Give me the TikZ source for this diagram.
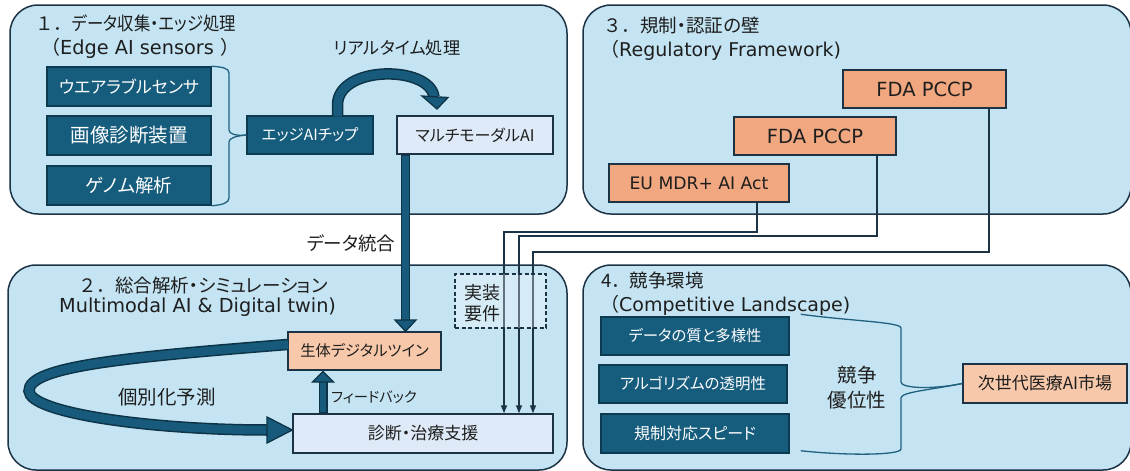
\documentclass[tikz,border=0pt]{standalone}
\usepackage{fontspec}
\usepackage{graphicx}
\setmainfont{Noto Sans CJK JP}[RawFeature=+palt]
\newfontfamily\jp{Noto Sans CJK JP}[RawFeature=+palt]
\newfontfamily\jpf{Noto Sans CJK JP}
\newfontfamily\lat{DejaVu Sans}
\usetikzlibrary{arrows.meta}
\definecolor{panel}{HTML}{C4E4F3}
\definecolor{pborder}{HTML}{1C3346}
\definecolor{darkbox}{HTML}{165C7D}
\definecolor{darkedge}{HTML}{0E3A50}
\definecolor{lightbox}{HTML}{DEEAF7}
\definecolor{salmonL}{HTML}{F8C8AA}
\definecolor{salmon}{HTML}{F1A880}
\definecolor{arrowfill}{HTML}{175A7B}
\definecolor{arrowedge}{HTML}{0D3446}
\definecolor{bracketc}{HTML}{21607F}
\definecolor{txt}{HTML}{1E1E1E}
\newcommand{\fs}[1]{\fontsize{#1}{#1}\selectfont}
\tikzset{
  panelbox/.style={fill=panel,draw=pborder,line width=1.5pt,rounded corners=28pt},
  dbox/.style={draw=darkedge,fill=darkbox,line width=1.5pt,text=white,inner sep=0pt},
  lbox/.style={draw=pborder,fill=lightbox,line width=1.5pt,text=txt,inner sep=0pt},
  sbox/.style={draw=pborder,fill=salmonL,line width=1.5pt,text=txt,inner sep=0pt},
  obox/.style={draw=pborder,fill=salmon,line width=1.5pt,text=txt,inner sep=0pt},
  ttl/.style={anchor=west,text=txt,inner sep=0pt},
  lbl/.style={text=txt,inner sep=0pt},
  thinarrow/.style={draw=pborder,line width=1.4pt,-{Triangle[width=6pt,length=8pt]}},
  bandout/.style={draw=arrowedge,line width=11.5pt},
  bandin/.style={draw=arrowfill,line width=8.5pt},
  headst/.style={fill=arrowfill,draw=arrowedge,line width=1.3pt,line join=miter},
  brk/.style={draw=bracketc,line width=1.3pt},
}
\begin{document}
\begin{tikzpicture}[x=1pt,y=-1pt]
\useasboundingbox (0,0) rectangle (1130,471);
\begin{scope}
\clip (0,0) rectangle (1130,471);
% panels
\draw[panelbox] (10,5) rectangle (567,214);
\draw[panelbox] (583,5) rectangle (1131,214);
\draw[panelbox] (8,265) rectangle (567,470);
\draw[panelbox] (583,265) rectangle (1131,470);
\end{scope}

% titles
\node[ttl] (t1a) at (35,23) {{\jpf\fs{18.5}１．}\scalebox{0.885}[1]{\jp\fs{18.5}データ収集・エッジ処理}};
\node[ttl] (t1b) at (41,48) {{\jpf\fs{19}（}{\lat\fs{19.3}Edge AI sensors }{\jpf\fs{19}）}};
\node[ttl] (t2a) at (78,285) {{\jpf\fs{18.5}２．}{\jp\fs{18.5}総合解析・シミュレーション}};
\node[ttl,font=\lat\fs{19.3}] (t2b) at (59,307) {Multimodal AI \& Digital twin)};
\node[ttl] (t3a) at (603,25) {{\jpf\fs{18.5}３．}{\jp\fs{18.5}規制・認証の壁}};
\node[ttl] (t3b) at (600,50) {{\jpf\fs{19}（}{\lat\fs{19}Regulatory Framework)}};
\node[ttl] (t4a) at (601,280) {{\jpf\fs{18.5}4．}{\jp\fs{18.5}競争環境}};
\node[ttl] (t4b) at (600,305) {{\jpf\fs{19}（}{\lat\fs{19}Competitive Landscape)}};

% regulation boxes and thin connectors
\node[obox,minimum width=163pt,minimum height=38pt,font=\lat\fs{19.5}] (fda1) at (924.5,89) {FDA PCCP};
\node[obox,minimum width=162pt,minimum height=38pt,font=\lat\fs{19.5}] (fda2) at (815,136) {FDA PCCP};
\node[obox,minimum width=180pt,minimum height=38pt,font=\lat\fs{17.2}] (eu) at (699,183) {EU MDR+ AI Act};
\node[lbox,minimum width=260pt,minimum height=39pt,font=\jp\fs{17}] (diag) at (423,433.5) {診断・治療支援};
\coordinate (k1) at (504,232);
\coordinate (k2) at (519,236);
\coordinate (k3) at (533,252);
\draw[thinarrow] ([xshift=58pt]eu.south) |- (k1) -- (k1 |- diag.north);
\draw[thinarrow] ([xshift=62pt]fda2.south) |- (k2) -- (k2 |- diag.north);
\draw[thinarrow] ([xshift=64.5pt]fda1.south) |- (k3) -- (k3 |- diag.north);

% dashed requirement box
\node[draw=pborder,dashed,dash pattern=on 4pt off 2.5pt,line width=1.3pt,fill=white,fill opacity=0.3,text opacity=1,minimum width=91pt,minimum height=54pt,inner sep=0pt] (req) at (500.5,301) {};
\node[lbl,font=\jp\fontsize{18}{20.5}\selectfont,align=left,anchor=west] (reqt) at (464,303) {実装\\要件};

% panel 1 boxes
\node[dbox,minimum width=164pt,minimum height=39pt,font=\jp\fs{17}] (wear) at (129,86.5) {ウエアラブルセンサ};
\node[dbox,minimum width=164pt,minimum height=39pt,font=\jp\fs{19.5}] (img) at (129,135.5) {画像診断装置};
\node[dbox,minimum width=164pt,minimum height=39pt,font=\jp\fs{18.5}] (gen) at (129,185.5) {ゲノム解析};
\node[dbox,minimum width=126pt,minimum height=38pt,font=\jp\fs{15.5}] (chip) at (310,135) {エッジAIチップ};
\node[lbox,minimum width=156pt,minimum height=38pt,font=\jp\fs{16}] (multi) at (475,135) {マルチモーダルAI};

% bracket 1
\draw[brk] (wear.north east) .. controls (222,67) and (229,68) .. (229,73) -- (229,130) .. controls (229,134) and (236,136) .. (chip.west);
\draw[brk] (chip.west) .. controls (236,136) and (229,138) .. (229,142) -- (229,198) .. controls (229,203) and (222,205) .. (gen.south east);

% realtime curved arrow
\node[lbl,font=\jp\fs{17.2}] (rt) at (397,48) {リアルタイム処理};
\coordinate (rtend) at (434,97);
\draw[bandout] ([xshift=27.5pt]chip.north) -- (337.5,105) .. controls (337.5,65) and (430,65) .. (rtend);
\draw[bandin] ([xshift=27.5pt,yshift=-1pt]chip.north) -- (337.5,105) .. controls (337.5,65) and (430,65) .. (rtend);
\draw[headst] (422,96) -- (448,97.5) -- (437,109) -- cycle;

% panel 2 boxes
\node[sbox,minimum width=153pt,minimum height=38pt,font=\jp\fs{15.3}] (twin) at (364.5,351) {生体デジタルツイン};

% integration arrow
\node[lbl,font=\jp\fs{18.5}] (integ) at (351,243) {データ統合};
\draw[draw=arrowedge,line width=9.5pt] ([xshift=-69.5pt]multi.south) -- (405.5,321);
\draw[draw=arrowfill,line width=7pt] ([xshift=-69.5pt,yshift=-1pt]multi.south) -- (405.5,321);
\draw[headst] (395,320) -- (416,320) -- (twin.north -| 405.5,0) -- cycle;

% feedback arrow
\node[lbl,font=\jp\fs{14.3},anchor=west] (fb) at (331,397) {フィードバック};
\draw[draw=arrowedge,line width=9pt] ([xshift=-100pt]diag.north) -- (323,382);
\draw[draw=arrowfill,line width=6.5pt] ([xshift=-100pt,yshift=1pt]diag.north) -- (323,382);
\draw[headst] (312.5,382) -- (333.5,382) -- (323,371.5) -- cycle;

% personalised prediction loop
\node[lbl,font=\jp\fs{19.5}] (pred) at (167,397) {個別化予測};
\coordinate (lp) at (268,430);
\draw[bandout] ([yshift=6.5pt]twin.west) .. controls (130,357) and (28,366) .. (29,391) .. controls (30,413) and (150,430) .. (lp);
\draw[bandin] ([xshift=1pt,yshift=6.5pt]twin.west) .. controls (130,357) and (28,366) .. (29,391) .. controls (30,413) and (150,430) .. (lp);
\draw[headst] (267,417) -- (diag.west |- 0,430) -- (267,443) -- cycle;

% panel 4
\node[dbox,minimum width=188pt,minimum height=38pt,font=\jp\fs{15.4}] (dq) at (695,336) {データの質と多様性};
\node[dbox,minimum width=188pt,minimum height=38pt,font=\jp\fs{15.5}] (algo) at (693,384) {アルゴリズムの透明性};
\node[dbox,minimum width=188pt,minimum height=39pt,font=\jp\fs{16}] (spd) at (695,433.5) {規制対応スピード};
\node[sbox,minimum width=164pt,minimum height=39pt,font=\jp\fs{17}] (mkt) at (1045,383.5) {次世代医療AI市場};
\node[lbl,font=\jp\fontsize{19.5}{25}\selectfont,align=center] (adv) at (857,388) {競争\\優位性};
\draw[brk] ([xshift=11pt,yshift=2pt]dq.north east) .. controls (850,321) and (901,322) .. (901,328) -- (901,382) .. controls (901,388) and (930,390) .. (mkt.west);
\draw[brk] (mkt.west) .. controls (930,390) and (901,392) .. (901,398) -- (901,449) .. controls (901,455) and (850,456) .. ([xshift=11pt,yshift=3pt]spd.south east);
\end{tikzpicture}
\end{document}
